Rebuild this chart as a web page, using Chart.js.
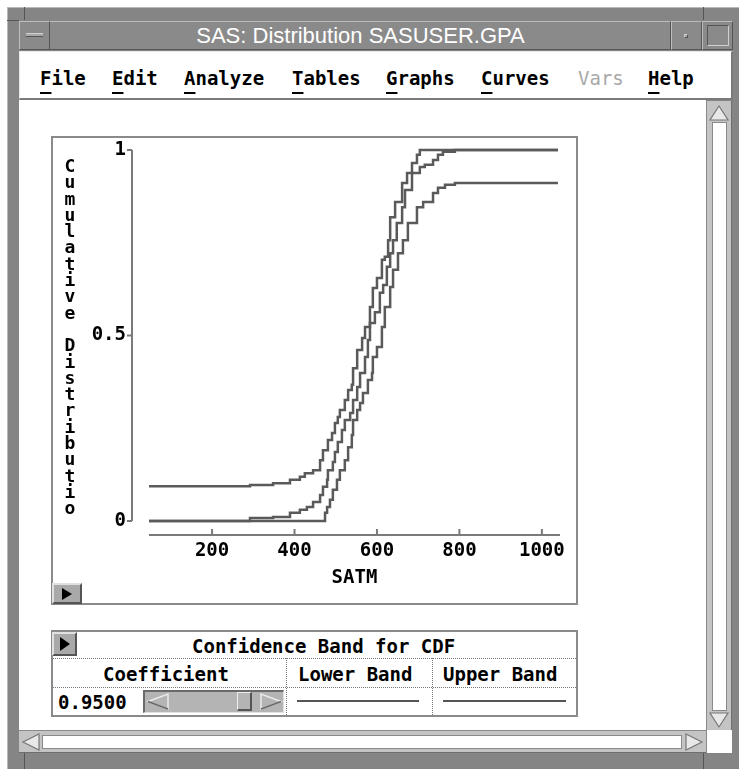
<!DOCTYPE html>
<html>
<head>
<meta charset="utf-8">
<title>SAS: Distribution SASUSER.GPA</title>
<script src="https://cdn.jsdelivr.net/npm/chart.js@4.4.1/dist/chart.umd.min.js"></script>
<style>
  body { margin: 0; width: 739px; height: 769px; background: #fff; position: relative; overflow: hidden; font-family: "DejaVu Sans Mono", monospace; }
  .abs { position: absolute; box-sizing: border-box; }
  .mono { font-family: "DejaVu Sans Mono", monospace; font-weight: bold; font-size: 19px; color: #000; white-space: nowrap; line-height: 1; }
  .btn3d { background: #a9a9a9; border-top: 2px solid #e0e0e0; border-left: 2px solid #e0e0e0; border-right: 2px solid #555; border-bottom: 2px solid #555; }
  .menu u { text-decoration-thickness: 2px; text-underline-offset: 7px; }
  .dotH { border-top: 1px dotted #777; height: 0; }
  .dotV { border-left: 1px dotted #777; width: 0; }
</style>
</head>
<body>
<!-- window frame -->
<div class="abs" style="left:7px;top:7px;width:732px;height:762px;background:#858585;border-top:1px solid #b8b8b8;border-left:1px solid #b8b8b8;"></div>
<div class="abs" style="left:7px;top:20px;width:12px;height:1px;background:#555;"></div>
<div class="abs" style="left:24px;top:7px;width:1px;height:13px;background:#555;"></div>
<div class="abs" style="left:703px;top:7px;width:1px;height:13px;background:#555;"></div>
<div class="abs" style="left:24px;top:753px;width:1px;height:16px;background:#555;"></div>
<div class="abs" style="left:703px;top:753px;width:1px;height:16px;background:#555;"></div>

<!-- title bar -->
<div class="abs" style="left:19px;top:21px;width:652px;height:29px;background:#8a8a8a;border-top:1px solid #bdbdbd;border-left:1px solid #bdbdbd;border-right:1px solid #555;border-bottom:1px solid #555;"></div>
<div class="abs" style="left:19px;top:21px;width:31px;height:29px;background:#8a8a8a;border-top:1px solid #bdbdbd;border-left:1px solid #bdbdbd;border-right:1px solid #555;border-bottom:1px solid #555;"></div>
<div class="abs" style="left:26px;top:33px;width:17px;height:4px;background:#a8a8a8;border-top:1px solid #d0d0d0;border-bottom:1px solid #555;"></div>
<div class="abs" style="left:671px;top:21px;width:31px;height:29px;background:#8a8a8a;border-top:1px solid #bdbdbd;border-left:1px solid #bdbdbd;border-right:1px solid #555;border-bottom:1px solid #555;"></div>
<div class="abs" style="left:684px;top:34px;width:4px;height:4px;background:#a8a8a8;border-top:1px solid #d0d0d0;border-left:1px solid #d0d0d0;border-bottom:1px solid #555;border-right:1px solid #555;"></div>
<div class="abs" style="left:702px;top:21px;width:31px;height:29px;background:#8a8a8a;border-top:1px solid #bdbdbd;border-left:1px solid #bdbdbd;border-right:1px solid #555;border-bottom:1px solid #555;"></div>
<div class="abs" style="left:707px;top:25px;width:22px;height:21px;border-top:1px solid #555;border-left:1px solid #555;border-right:1px solid #d0d0d0;border-bottom:1px solid #d0d0d0;"></div>
<div class="abs" style="left:50px;top:23px;width:621px;text-align:center;color:#fff;font-family:'Liberation Sans',Arial,sans-serif;font-size:22px;line-height:26px;">SAS: Distribution SASUSER.GPA</div>

<!-- menu bar -->
<div class="abs" style="left:19px;top:51px;width:714px;height:49px;background:#fff;border-top:1px solid #e8e8e8;border-left:1px solid #e8e8e8;border-bottom:2px solid #7a7a7a;border-right:2px solid #7a7a7a;"></div>
<div class="menu">
  <div class="abs mono" style="left:40px;top:69px;"><u>F</u>ile</div>
  <div class="abs mono" style="left:112px;top:69px;"><u>E</u>dit</div>
  <div class="abs mono" style="left:184px;top:69px;"><u>A</u>nalyze</div>
  <div class="abs mono" style="left:292px;top:69px;"><u>T</u>ables</div>
  <div class="abs mono" style="left:386px;top:69px;"><u>G</u>raphs</div>
  <div class="abs mono" style="left:481px;top:69px;"><u>C</u>urves</div>
  <div class="abs mono" style="left:578px;top:69px;color:#a8a8a8;font-weight:normal;">Vars</div>
  <div class="abs mono" style="left:648px;top:69px;"><u>H</u>elp</div>
</div>

<!-- client area -->
<div class="abs" style="left:19px;top:100px;width:687px;height:630px;background:#fff;"></div>

<!-- vertical scrollbar -->
<div class="abs" style="left:706px;top:101px;width:26px;height:629px;background:#c4c4c4;border-left:1px solid #8a8a8a;border-right:1px solid #6e6e6e;"></div>
<svg class="abs" style="left:708px;top:104px;" width="22" height="18"><polygon points="11,2 20,16 2,16" fill="#e8e8e8" stroke="#777" stroke-width="1.2"/></svg>
<div class="abs" style="left:712px;top:122px;width:15px;height:589px;background:#fff;border:1px solid #8a8a8a;"></div>
<svg class="abs" style="left:708px;top:711px;" width="22" height="18"><polygon points="2,2 20,2 11,16" fill="#e8e8e8" stroke="#777" stroke-width="1.2"/></svg>

<!-- horizontal scrollbar -->
<div class="abs" style="left:19px;top:730px;width:687px;height:23px;background:#c4c4c4;border-top:1px solid #8a8a8a;border-bottom:1px solid #6e6e6e;"></div>
<svg class="abs" style="left:21px;top:732px;" width="20" height="20"><polygon points="2,10 18,2 18,18" fill="#e8e8e8" stroke="#777" stroke-width="1.2"/></svg>
<div class="abs" style="left:42px;top:735px;width:640px;height:14px;background:#fff;border:1px solid #8a8a8a;"></div>
<svg class="abs" style="left:684px;top:732px;" width="20" height="20"><polygon points="2,2 18,10 2,18" fill="#e8e8e8" stroke="#777" stroke-width="1.2"/></svg>
<div class="abs" style="left:706px;top:730px;width:26px;height:23px;background:#fff;border-left:1px solid #8a8a8a;"></div>

<!-- distribution plot -->
<div class="abs" style="left:51px;top:136px;width:527px;height:469px;border:2px solid #8a8a8a;background:#fff;"></div>
<canvas id="cdf" class="abs" width="523" height="465" style="left:53px;top:138px;width:523px;height:465px;"></canvas>
<div class="abs mono" style="left:61px;top:158px;width:18px;font-size:18px;line-height:16.3px;text-align:center;white-space:normal;">C<br>u<br>m<br>u<br>l<br>a<br>t<br>i<br>v<br>e<br><br>D<br>i<br>s<br>t<br>r<br>i<br>b<br>u<br>t<br>i<br>o</div>
<div class="abs btn3d" style="left:52px;top:583px;width:30px;height:21px;"></div>
<svg class="abs" style="left:60px;top:587px;" width="14" height="14"><polygon points="2,1 12,7 2,13" fill="#000"/></svg>

<!-- confidence band table -->
<div class="abs" style="left:51px;top:630px;width:527px;height:87px;border:2px solid #8a8a8a;background:#fff;"></div>
<div class="abs btn3d" style="left:52px;top:632px;width:25px;height:24px;"></div>
<svg class="abs" style="left:58px;top:636px;" width="14" height="16"><polygon points="2,1 12,8 2,15" fill="#000"/></svg>
<div class="abs mono" style="left:192px;top:637px;">Confidence Band for CDF</div>
<div class="abs dotH" style="left:53px;top:658px;width:523px;"></div>
<div class="abs dotH" style="left:53px;top:687px;width:523px;"></div>
<div class="abs dotV" style="left:286px;top:658px;height:57px;"></div>
<div class="abs dotV" style="left:432px;top:658px;height:57px;"></div>
<div class="abs mono" style="left:103px;top:665px;">Coefficient</div>
<div class="abs mono" style="left:298px;top:665px;">Lower Band</div>
<div class="abs mono" style="left:443px;top:665px;">Upper Band</div>
<div class="abs mono" style="left:58px;top:693px;">0.9500</div>
<div class="abs" style="left:143px;top:690px;width:141px;height:23px;background:#b4b4b4;border-top:2px solid #6a6a6a;border-left:2px solid #6a6a6a;border-bottom:1px solid #e0e0e0;border-right:1px solid #e0e0e0;"></div>
<svg class="abs" style="left:146px;top:692px;" width="24" height="19"><polygon points="2,9.5 22,2 22,17" fill="none" stroke="#eaeaea" stroke-width="1.5"/><polyline points="22,17 2,9.5" fill="none" stroke="#666" stroke-width="1.5"/></svg>
<div class="abs" style="left:237px;top:692px;width:15px;height:19px;background:#b4b4b4;border-top:1px solid #eee;border-left:1px solid #eee;border-right:2px solid #555;border-bottom:2px solid #555;"></div>
<svg class="abs" style="left:259px;top:692px;" width="24" height="19"><polygon points="22,9.5 2,2 2,17" fill="none" stroke="#eaeaea" stroke-width="1.5"/><polyline points="2,17 22,9.5" fill="none" stroke="#666" stroke-width="1.5"/></svg>
<div class="abs" style="left:297px;top:700px;width:122px;height:2px;background:#555;"></div>
<div class="abs" style="left:443px;top:700px;width:123px;height:2px;background:#555;"></div>

<script>
// SATM empirical CDF with 95% confidence band, read as step points
const cdfX = [47, 292, 348, 389, 413, 430, 445, 462, 469, 479, 481, 493, 498, 505, 515, 522, 535, 542, 552, 559, 571, 578, 583, 595, 607, 615, 624, 632, 639, 648, 661, 668, 685, 704, 716, 736, 748, 760, 789, 1039]
const cdfY = [0, 0.008, 0.011, 0.022, 0.030, 0.038, 0.051, 0.070, 0.092, 0.111, 0.137, 0.159, 0.186, 0.213, 0.245, 0.272, 0.291, 0.326, 0.361, 0.399, 0.442, 0.488, 0.534, 0.563, 0.615, 0.636, 0.685, 0.722, 0.757, 0.803, 0.846, 0.892, 0.938, 0.954, 0.960, 0.973, 0.987, 0.995, 1, 1]

const upperX = [47, 292, 348, 389, 413, 425, 445, 462, 469, 481, 491, 498, 505, 510, 522, 530, 539, 542, 552, 564, 571, 583, 590, 600, 612, 619, 627, 632, 644, 661, 673, 685, 697, 704, 1039]
const upperY = [0.094, 0.097, 0.102, 0.111, 0.119, 0.129, 0.137, 0.164, 0.191, 0.218, 0.237, 0.264, 0.280, 0.299, 0.326, 0.353, 0.367, 0.412, 0.461, 0.493, 0.523, 0.577, 0.628, 0.655, 0.704, 0.712, 0.757, 0.819, 0.860, 0.911, 0.938, 0.965, 0.987, 1, 1]

const lowerX = [47, 469, 474, 479, 486, 493, 503, 510, 522, 530, 539, 542, 552, 559, 566, 578, 588, 590, 600, 612, 619, 632, 639, 651, 663, 675, 697, 712, 736, 748, 765, 789, 1039]
const lowerY = [0, 0, 0.022, 0.038, 0.057, 0.084, 0.111, 0.137, 0.164, 0.199, 0.232, 0.272, 0.299, 0.318, 0.345, 0.380, 0.399, 0.442, 0.469, 0.523, 0.577, 0.631, 0.677, 0.722, 0.757, 0.803, 0.846, 0.860, 0.884, 0.898, 0.906, 0.911, 0.911]

const satmTicks = [200, 400, 600, 800, 1000]
const cdfTicks = [0, 0.5, 1]

const toPoints = (xs, ys) => xs.map((x, i) => ({ x: x, y: ys[i] }))

const tickFont = { family: 'DejaVu Sans Mono', size: 19, weight: 'bold' }

// SAS-style axes: y axis pulled left of the data, x axis dropped below zero
const axisLines = {
  id: 'axisLines',
  afterDatasetsDraw(chart) {
    const { ctx, chartArea, scales: { x, y } } = chart
    ctx.save()
    ctx.strokeStyle = '#7a7a7a'
    ctx.lineWidth = 2
    ctx.beginPath()
    const ax = chartArea.left - 17
    ctx.moveTo(ax, y.getPixelForValue(1))
    ctx.lineTo(ax, y.getPixelForValue(0))
    y.ticks.forEach(t => {
      const py = y.getPixelForValue(t.value)
      ctx.moveTo(ax - 5, py)
      ctx.lineTo(ax, py)
    })
    const ay = chartArea.bottom + 14
    ctx.moveTo(x.getPixelForValue(x.min), ay)
    ctx.lineTo(x.getPixelForValue(x.max), ay)
    x.ticks.forEach(t => {
      const px = x.getPixelForValue(t.value)
      ctx.moveTo(px, ay)
      ctx.lineTo(px, ay - 6)
    })
    ctx.stroke()
    ctx.restore()
  }
}

const ctxCdf = document.getElementById('cdf')

new Chart(ctxCdf, {
  type: 'line',
  data: {
    datasets: [
      { label: 'Upper Band', data: toPoints(upperX, upperY) },
      { label: 'CDF', data: toPoints(cdfX, cdfY) },
      { label: 'Lower Band', data: toPoints(lowerX, lowerY) }
    ]
  },
  options: {
    responsive: false,
    animation: false,
    layout: { padding: { top: 12, right: 16, left: 0, bottom: 0 } },
    elements: {
      point: { radius: 0 },
      line: { borderColor: '#5a5a5a', borderWidth: 2.5, stepped: true, tension: 0 }
    },
    datasets: { line: { clip: false } },
    plugins: { legend: { display: false }, tooltip: { enabled: false } },
    scales: {
      x: {
        type: 'linear',
        min: 47,
        max: 1044,
        grid: { display: false, drawTicks: false },
        border: { display: false },
        ticks: { font: tickFont, color: '#000', padding: 19, maxRotation: 0, callback: v => String(v) },
        afterBuildTicks: s => { s.ticks = satmTicks.map(v => ({ value: v })) },
        afterFit: s => { s.height = 82; s.paddingLeft = 0; s.paddingRight = 0 },
        title: { display: true, text: 'SATM', font: tickFont, color: '#000', padding: { top: 0, bottom: 14 } }
      },
      y: {
        min: 0,
        max: 1,
        grid: { display: false, drawTicks: false },
        border: { display: false },
        ticks: { font: tickFont, color: '#000', padding: 23, callback: v => String(v) },
        afterBuildTicks: s => { s.ticks = cdfTicks.map(v => ({ value: v })) },
        afterFit: s => { s.width = 96; s.paddingTop = 0; s.paddingBottom = 0 }
      }
    }
  },
  plugins: [axisLines]
})
</script>
</body>
</html>
